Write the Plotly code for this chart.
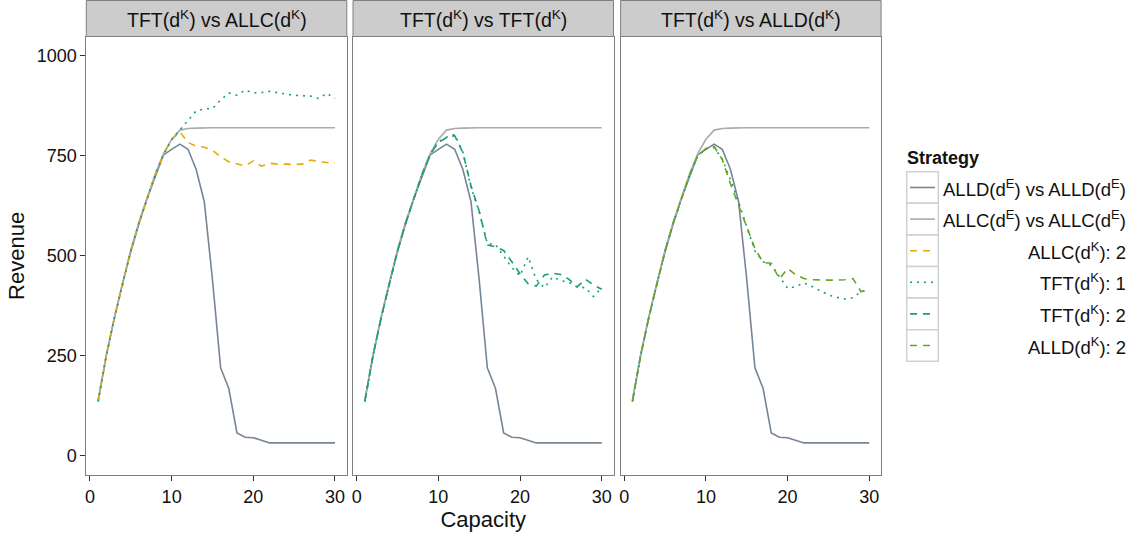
import plotly.graph_objects as go

# ---------------- data ----------------
capacity = [1, 2, 3, 4, 5, 6, 7, 8, 9, 10, 11, 12, 13, 14, 15,
            16, 17, 18, 19, 20, 21, 22, 23, 24, 25, 26, 27, 28, 29, 30]

panel_titles = ["TFT(d<sup>K</sup>) vs ALLC(d<sup>K</sup>)",
                "TFT(d<sup>K</sup>) vs TFT(d<sup>K</sup>)",
                "TFT(d<sup>K</sup>) vs ALLD(d<sup>K</sup>)"]

# reference curves (same in every panel)
alld_vs_alld = [138, 250, 345, 432, 510, 580, 643, 700, 752, 766, 779, 766, 716, 635, 440,
                220, 168, 57, 46, 45, 39, 32, 32, 32, 32, 32, 32, 32, 32, 32]
allc_vs_allc = [138, 252, 347, 435, 515, 585, 648, 705, 755, 791, 814, 818, 819, 820, 820,
                820, 820, 820, 820, 820, 820, 820, 820, 820, 820, 820, 820, 820, 820, 820]

# panel 1: TFT vs ALLC
p1_allc2 = [135, 250, 345, 432, 512, 582, 645, 702, 753, 790, 810, 783, 774, 771, 764,
            747, 735, 729, 724, 737, 724, 731, 729, 729, 728, 729, 739, 736, 733, 732]
p1_tft1 = [135, 250, 345, 432, 512, 582, 645, 702, 753, 790, 814, 839, 862, 867, 868,
           889, 907, 901, 914, 907, 908, 911, 907, 904, 901, 900, 899, 893, 906, 893]

# panel 2: TFT vs TFT
p2_tft1 = [135, 250, 345, 432, 512, 582, 645, 702, 753, 785, 796, 803, 760, 670, 610,
           530, 528, 500, 470, 450, 497, 440, 420, 447, 438, 433, 422, 420, 398, 420]
p2_tft2 = [135, 250, 345, 432, 512, 582, 645, 702, 753, 783, 795, 800, 758, 675, 612,
           527, 522, 513, 485, 455, 430, 424, 452, 456, 453, 441, 422, 441, 427, 416]

# panel 3: TFT vs ALLD
p3_tft1 = [135, 250, 345, 432, 512, 582, 645, 702, 750, 768, 770, 742, 690, 635, 572,
           512, 485, 476, 448, 418, 423, 432, 423, 412, 402, 396, 392, 395, 410, 416]
p3_alld2 = [135, 250, 345, 432, 512, 582, 645, 702, 750, 768, 773, 740, 680, 627, 575,
            518, 483, 481, 442, 468, 452, 443, 440, 439, 439, 439, 440, 443, 410, 416]

legend_labels = ["ALLD(d<sup>E</sup>) vs ALLD(d<sup>E</sup>)",
                 "ALLC(d<sup>E</sup>) vs ALLC(d<sup>E</sup>)",
                 "ALLC(d<sup>K</sup>): 2",
                 "TFT(d<sup>K</sup>): 1",
                 "TFT(d<sup>K</sup>): 2",
                 "ALLD(d<sup>K</sup>): 2"]

# ---------------- styles ----------------
W, H = 1136, 535
FONT = "Liberation Sans, Arial, Helvetica, sans-serif"
TXT = "#111111"
styles = {
    "ALLD(d<sup>E</sup>) vs ALLD(d<sup>E</sup>)": dict(color="#768596", dash="solid"),
    "ALLC(d<sup>E</sup>) vs ALLC(d<sup>E</sup>)": dict(color="#ababab", dash="solid"),
    "ALLC(d<sup>K</sup>): 2": dict(color="#E6AB02", dash="7px,6px"),
    "TFT(d<sup>K</sup>): 1": dict(color="#1B9E77", dash="2px,5px"),
    "TFT(d<sup>K</sup>): 2": dict(color="#1B9E77", dash="7px,6px"),
    "ALLD(d<sup>K</sup>): 2": dict(color="#66A61E", dash="7px,6px"),
}
LW = 1.6

def px(x):
    return x / W

def py(y):
    return 1 - y / H

panel_left = [86.3, 353.0, 620.6]
panel_w = 260.5
top_px, bot_px = 36.5, 475.3
ydom = [py(bot_px), py(top_px)]

panels = [
    [(legend_labels[0], alld_vs_alld), (legend_labels[1], allc_vs_allc),
     (legend_labels[2], p1_allc2), (legend_labels[3], p1_tft1)],
    [(legend_labels[0], alld_vs_alld), (legend_labels[1], allc_vs_allc),
     (legend_labels[3], p2_tft1), (legend_labels[4], p2_tft2)],
    [(legend_labels[0], alld_vs_alld), (legend_labels[1], allc_vs_allc),
     (legend_labels[3], p3_tft1), (legend_labels[5], p3_alld2)],
]

fig = go.Figure()
for i, series in enumerate(panels):
    xa = "x" if i == 0 else f"x{i+1}"
    ya = "y" if i == 0 else f"y{i+1}"
    for name, vals in series:
        st = styles[name]
        fig.add_trace(go.Scatter(x=capacity, y=vals, mode="lines", name=name,
                                 xaxis=xa, yaxis=ya, showlegend=False,
                                 line=dict(color=st["color"], dash=st["dash"], width=LW)))

axis_common = dict(showgrid=False, zeroline=False, showline=True, mirror=True,
                   linecolor="#7f7f7f", linewidth=1, ticks="outside", ticklen=5,
                   tickwidth=1, tickcolor="#333333",
                   tickfont=dict(family=FONT, size=18, color=TXT))

layout = dict(width=W, height=H, margin=dict(l=0, r=0, t=0, b=0),
              plot_bgcolor="white", paper_bgcolor="white", showlegend=False,
              font=dict(family=FONT, size=18, color=TXT))

for i in range(3):
    xk = "xaxis" if i == 0 else f"xaxis{i+1}"
    yk = "yaxis" if i == 0 else f"yaxis{i+1}"
    left = panel_left[i]
    xa = dict(axis_common, domain=[px(left), px(left + panel_w)], range=[-0.45, 31.45],
              tickvals=[0, 10, 20, 30], anchor="y" if i == 0 else f"y{i+1}")
    if i == 1:
        xa["title"] = dict(text="Capacity", font=dict(family=FONT, size=22, color=TXT),
                           standoff=2)
    layout[xk] = xa
    ya = dict(axis_common, domain=ydom, range=[-49, 1048],
              tickvals=[0, 250, 500, 750, 1000],
              anchor="x" if i == 0 else f"x{i+1}")
    if i == 0:
        ya["title"] = dict(text="Revenue", font=dict(family=FONT, size=22, color=TXT),
                           standoff=5)
    else:
        ya["showticklabels"] = False
        ya["ticks"] = ""
        ya["matches"] = "y"
    layout[yk] = ya

fig.update_layout(**layout)

# facet strips
for i in range(3):
    left = panel_left[i]
    fig.add_shape(type="rect", xref="paper", yref="paper",
                  x0=px(left), x1=px(left + panel_w), y0=py(top_px), y1=py(0.5),
                  fillcolor="#CCCCCC", line=dict(color="#7f7f7f", width=1), layer="above")
    fig.add_annotation(xref="paper", yref="paper", x=px(left + panel_w / 2), y=py(19),
                       text=panel_titles[i], showarrow=False, xanchor="center", yanchor="middle",
                       font=dict(family=FONT, size=19.5, color=TXT))

# legend (drawn as keys + right-aligned labels, like the reference)
fig.add_annotation(xref="paper", yref="paper", x=px(905), y=py(158), text="<b>Strategy</b>",
                   showarrow=False, xanchor="left", yanchor="middle",
                   font=dict(family=FONT, size=18, color=TXT))
row0, row_h = 171.7, 31.6
for j, lab in enumerate(legend_labels):
    y0 = row0 + j * row_h
    yc = y0 + row_h / 2
    st = styles[lab]
    fig.add_shape(type="rect", xref="paper", yref="paper",
                  x0=px(906.7), x1=px(938.3), y0=py(y0 + row_h), y1=py(y0),
                  fillcolor="white", line=dict(color="#d0d0d0", width=1.5))
    fig.add_shape(type="line", xref="paper", yref="paper",
                  x0=px(910), x1=px(935), y0=py(yc), y1=py(yc),
                  line=dict(color=st["color"], dash=st["dash"], width=LW))
    fig.add_annotation(xref="paper", yref="paper", x=px(1128), y=py(yc), text=lab,
                       showarrow=False, xanchor="right", yanchor="middle",
                       font=dict(family=FONT, size=18.5, color=TXT))

fig.write_html("out.html", config={"displayModeBar": False})
